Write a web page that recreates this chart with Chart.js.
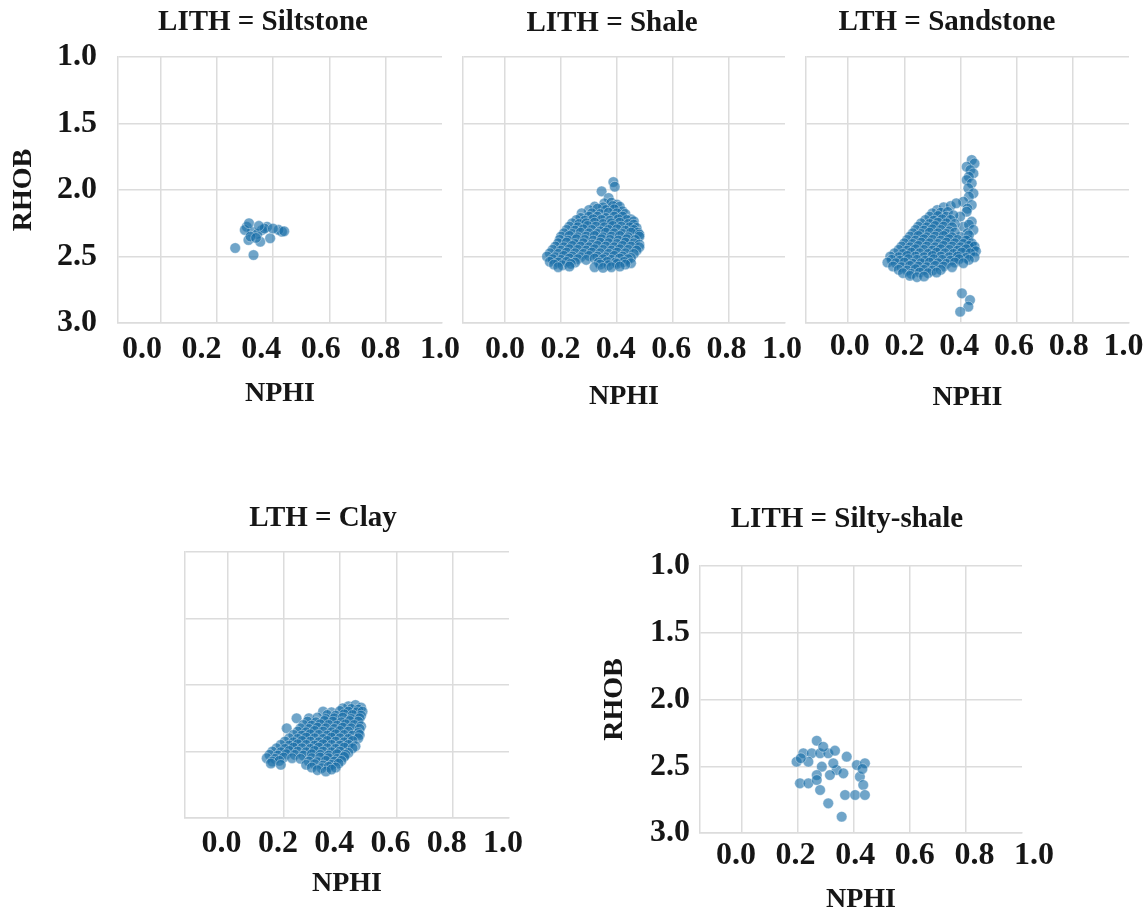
<!DOCTYPE html>
<html>
<head>
<meta charset="utf-8">
<title>NPHI vs RHOB by lithology</title>
<script src="https://cdn.jsdelivr.net/npm/chart.js@4.4.1/dist/chart.umd.min.js"></script>
<style>
  html, body { margin: 0; padding: 0; background: #ffffff; }
  #page { position: relative; width: 1147px; height: 916px; overflow: hidden; background: #ffffff; }
  #page canvas { position: absolute; }
</style>
</head>
<body>
<div id="page"></div>
<script>
// ---- axis ticks ----
const nphiTicks = [0.0, 0.2, 0.4, 0.6, 0.8, 1.0];
const nphiTickLabels = ['0.0', '0.2', '0.4', '0.6', '0.8', '1.0'];
const rhobTicks = [1.0, 1.5, 2.0, 2.5, 3.0];
const rhobTickLabels = ['1.0', '1.5', '2.0', '2.5', '3.0'];

// ---- facet titles ----
const facetTitles = ['LITH = Siltstone', 'LITH = Shale', 'LTH = Sandstone', 'LTH = Clay', 'LITH = Silty-shale'];

// ---- Siltstone ----
const siltstoneNphi = [0.307, 0.325, 0.379, 0.432, 0.266, 0.331, 0.355, 0.313, 0.390, 0.361,
  0.300, 0.345, 0.370, 0.420, 0.440, 0.320, 0.340, 0.400, 0.315, 0.350];
const siltstoneRhob = [2.276, 2.314, 2.276, 2.314, 2.436, 2.489, 2.389, 2.376, 2.363, 2.301,
  2.300, 2.330, 2.290, 2.300, 2.310, 2.350, 2.360, 2.290, 2.250, 2.270];

// ---- Shale ----
const shaleNphi = [
  0.387, 0.392, 0.345, 0.370, 0.355, 0.380, 0.400,
  0.320, 0.350, 0.385, 0.410,
  0.300, 0.330, 0.360, 0.390, 0.420, 0.274,
  0.310, 0.340, 0.370, 0.400, 0.430,
  0.270, 0.300, 0.330, 0.360, 0.390, 0.420, 0.450,
  0.255, 0.285, 0.315, 0.345, 0.375, 0.405, 0.435, 0.460,
  0.240, 0.265, 0.290, 0.320, 0.350, 0.380, 0.410, 0.440, 0.460,
  0.230, 0.260, 0.295, 0.325, 0.355, 0.385, 0.415, 0.445, 0.470,
  0.220, 0.250, 0.280, 0.310, 0.340, 0.370, 0.400, 0.430, 0.460, 0.475,
  0.210, 0.240, 0.270, 0.300, 0.330, 0.360, 0.390, 0.420, 0.450, 0.480,
  0.200, 0.230, 0.260, 0.290, 0.320, 0.350, 0.380, 0.410, 0.440, 0.480,
  0.195, 0.225, 0.255, 0.285, 0.315, 0.345, 0.375, 0.405, 0.435, 0.465,
  0.190, 0.220, 0.250, 0.280, 0.310, 0.340, 0.370, 0.400, 0.430, 0.460, 0.480,
  0.180, 0.210, 0.240, 0.270, 0.300, 0.330, 0.360, 0.390, 0.420, 0.450, 0.480,
  0.170, 0.200, 0.230, 0.260, 0.290, 0.320, 0.350, 0.380, 0.410, 0.440, 0.470,
  0.160, 0.190, 0.220, 0.250, 0.280, 0.310, 0.340, 0.370, 0.400, 0.430, 0.460,
  0.150, 0.180, 0.210, 0.240, 0.270, 0.300, 0.330, 0.360, 0.390, 0.420, 0.450,
  0.170, 0.200, 0.230, 0.260, 0.290, 0.320, 0.350, 0.380, 0.410, 0.440,
  0.160, 0.190, 0.220, 0.250, 0.335, 0.365, 0.395, 0.425, 0.450,
  0.175, 0.205, 0.235, 0.340, 0.370, 0.400, 0.430,
  0.190, 0.230, 0.320, 0.350, 0.380, 0.410];
const shaleRhob = [
  1.940, 1.975, 2.010, 2.060, 2.100, 2.095, 2.110,
  2.125, 2.130, 2.120, 2.125,
  2.150, 2.140, 2.150, 2.145, 2.160, 2.175,
  2.175, 2.180, 2.170, 2.175, 2.180,
  2.210, 2.200, 2.200, 2.210, 2.200, 2.200, 2.220,
  2.225, 2.230, 2.220, 2.225, 2.230, 2.220, 2.225, 2.235,
  2.250, 2.255, 2.250, 2.245, 2.255, 2.250, 2.245, 2.255, 2.260,
  2.275, 2.280, 2.270, 2.275, 2.280, 2.270, 2.275, 2.280, 2.285,
  2.300, 2.305, 2.295, 2.300, 2.310, 2.300, 2.295, 2.305, 2.300, 2.320,
  2.325, 2.330, 2.320, 2.325, 2.330, 2.320, 2.325, 2.330, 2.320, 2.335,
  2.350, 2.345, 2.355, 2.350, 2.345, 2.355, 2.350, 2.345, 2.355, 2.350,
  2.375, 2.380, 2.370, 2.375, 2.380, 2.370, 2.375, 2.380, 2.370, 2.375,
  2.400, 2.395, 2.405, 2.400, 2.410, 2.395, 2.400, 2.405, 2.395, 2.400, 2.410,
  2.425, 2.430, 2.420, 2.425, 2.430, 2.420, 2.425, 2.430, 2.420, 2.425, 2.430,
  2.450, 2.455, 2.445, 2.450, 2.455, 2.445, 2.450, 2.455, 2.445, 2.450, 2.455,
  2.475, 2.480, 2.470, 2.475, 2.480, 2.470, 2.475, 2.480, 2.470, 2.475, 2.480,
  2.500, 2.505, 2.495, 2.500, 2.505, 2.495, 2.500, 2.505, 2.495, 2.500, 2.510,
  2.520, 2.525, 2.515, 2.520, 2.525, 2.515, 2.520, 2.525, 2.515, 2.520,
  2.540, 2.545, 2.540, 2.545, 2.545, 2.540, 2.545, 2.540, 2.550,
  2.560, 2.565, 2.555, 2.560, 2.565, 2.555, 2.560,
  2.580, 2.575, 2.580, 2.585, 2.580, 2.575];

// ---- Sandstone ----
const sandstoneNphi = [
  0.440, 0.450, 0.422, 0.435, 0.446, 0.430, 0.422, 0.440, 0.428, 0.446, 0.430, 0.410, 0.440, 0.425, 0.422,
  0.399, 0.440, 0.410, 0.430, 0.446, 0.425, 0.399, 0.428, 0.440, 0.446, 0.420, 0.387,
  0.317, 0.340, 0.365, 0.385,
  0.300, 0.330, 0.355,
  0.290, 0.320, 0.350, 0.375,
  0.275, 0.305, 0.335, 0.365,
  0.260, 0.290, 0.320, 0.350, 0.380,
  0.250, 0.280, 0.310, 0.340, 0.370,
  0.240, 0.270, 0.300, 0.330, 0.360,
  0.230, 0.260, 0.290, 0.320, 0.350, 0.380,
  0.220, 0.250, 0.280, 0.310, 0.340, 0.370, 0.430,
  0.210, 0.240, 0.270, 0.300, 0.330, 0.360, 0.390, 0.420,
  0.200, 0.230, 0.260, 0.290, 0.320, 0.350, 0.380, 0.410, 0.440,
  0.190, 0.220, 0.250, 0.280, 0.310, 0.340, 0.370, 0.400, 0.430, 0.450,
  0.180, 0.210, 0.240, 0.270, 0.300, 0.330, 0.360, 0.390, 0.420, 0.455,
  0.165, 0.195, 0.225, 0.255, 0.285, 0.315, 0.345, 0.375, 0.405, 0.435,
  0.150, 0.180, 0.210, 0.240, 0.270, 0.300, 0.330, 0.360, 0.390, 0.420, 0.450,
  0.155, 0.185, 0.215, 0.245, 0.275, 0.305, 0.335, 0.365, 0.395, 0.430,
  0.140, 0.170, 0.200, 0.230, 0.260, 0.290, 0.320, 0.350, 0.380, 0.410,
  0.160, 0.190, 0.220, 0.250, 0.280, 0.310, 0.340, 0.370,
  0.180, 0.210, 0.240, 0.270, 0.300, 0.330,
  0.195, 0.225, 0.255, 0.285, 0.315,
  0.220, 0.245, 0.270,
  0.405, 0.434, 0.428, 0.399];
const sandstoneRhob = [
  1.774, 1.800, 1.825, 1.850, 1.875, 1.900, 1.925, 1.950, 1.987, 2.025, 2.050, 2.088, 2.113, 2.140, 2.163,
  2.200, 2.238, 2.276, 2.260, 2.300, 2.325, 2.351, 2.376, 2.420, 2.451, 2.476, 2.514,
  2.150, 2.130, 2.120, 2.100,
  2.175, 2.170, 2.165,
  2.200, 2.195, 2.200, 2.190,
  2.225, 2.230, 2.220, 2.225,
  2.250, 2.255, 2.245, 2.250, 2.255,
  2.275, 2.280, 2.270, 2.275, 2.280,
  2.300, 2.305, 2.295, 2.300, 2.310,
  2.325, 2.330, 2.320, 2.325, 2.330, 2.320,
  2.350, 2.345, 2.355, 2.350, 2.345, 2.355, 2.340,
  2.375, 2.380, 2.370, 2.375, 2.380, 2.370, 2.375, 2.380,
  2.400, 2.405, 2.395, 2.400, 2.405, 2.395, 2.400, 2.405, 2.400,
  2.425, 2.430, 2.420, 2.425, 2.430, 2.420, 2.425, 2.430, 2.420, 2.425,
  2.450, 2.455, 2.445, 2.450, 2.455, 2.445, 2.450, 2.455, 2.445, 2.460,
  2.475, 2.480, 2.470, 2.475, 2.480, 2.470, 2.475, 2.480, 2.470, 2.475,
  2.500, 2.505, 2.495, 2.500, 2.505, 2.495, 2.500, 2.505, 2.500, 2.510, 2.505,
  2.525, 2.530, 2.520, 2.525, 2.530, 2.520, 2.525, 2.530, 2.520, 2.525,
  2.545, 2.550, 2.545, 2.555, 2.550, 2.545, 2.550, 2.555, 2.545, 2.550,
  2.575, 2.580, 2.570, 2.575, 2.580, 2.570, 2.575, 2.580,
  2.600, 2.605, 2.595, 2.600, 2.605, 2.600,
  2.625, 2.630, 2.620, 2.625, 2.620,
  2.645, 2.655, 2.650,
  2.777, 2.827, 2.877, 2.915];

// ---- Clay ----
const clayNphi = [
  0.430, 0.455, 0.475, 0.440,
  0.410, 0.465,
  0.340, 0.370, 0.400, 0.430, 0.460, 0.480,
  0.355, 0.385, 0.415, 0.445, 0.475,
  0.246, 0.290, 0.320, 0.350, 0.380, 0.410, 0.440, 0.470,
  0.285, 0.315, 0.345, 0.375, 0.405, 0.435, 0.465,
  0.270, 0.300, 0.330, 0.360, 0.390, 0.420, 0.450, 0.475,
  0.211, 0.260, 0.290, 0.320, 0.350, 0.380, 0.410, 0.440, 0.470,
  0.250, 0.280, 0.310, 0.340, 0.370, 0.400, 0.430, 0.465,
  0.235, 0.265, 0.295, 0.325, 0.355, 0.385, 0.415, 0.445, 0.470,
  0.220, 0.250, 0.280, 0.310, 0.340, 0.370, 0.400, 0.430, 0.465,
  0.205, 0.235, 0.265, 0.295, 0.325, 0.355, 0.385, 0.415, 0.445,
  0.190, 0.220, 0.250, 0.280, 0.310, 0.340, 0.370, 0.400, 0.430, 0.455,
  0.175, 0.205, 0.235, 0.265, 0.295, 0.325, 0.355, 0.385, 0.415, 0.445,
  0.160, 0.190, 0.220, 0.250, 0.280, 0.310, 0.340, 0.370, 0.400, 0.430,
  0.150, 0.180, 0.210, 0.240, 0.270, 0.300, 0.330, 0.360, 0.390, 0.420,
  0.140, 0.170, 0.200, 0.230, 0.260, 0.300, 0.330, 0.360, 0.390, 0.415,
  0.160, 0.185, 0.290, 0.320, 0.350, 0.380, 0.405,
  0.155, 0.190, 0.280, 0.310, 0.340, 0.370, 0.395,
  0.300, 0.335, 0.360, 0.385,
  0.320, 0.350, 0.370];
const clayRhob = [
  2.160, 2.150, 2.170, 2.180,
  2.175, 2.185,
  2.200, 2.205, 2.195, 2.200, 2.205, 2.200,
  2.225, 2.230, 2.220, 2.225, 2.230,
  2.250, 2.250, 2.245, 2.255, 2.250, 2.245, 2.255, 2.250,
  2.275, 2.280, 2.270, 2.275, 2.280, 2.270, 2.275,
  2.300, 2.305, 2.295, 2.300, 2.305, 2.295, 2.300, 2.310,
  2.326, 2.325, 2.330, 2.320, 2.325, 2.330, 2.320, 2.325, 2.330,
  2.350, 2.355, 2.345, 2.350, 2.355, 2.345, 2.350, 2.360,
  2.375, 2.380, 2.370, 2.375, 2.380, 2.370, 2.375, 2.380, 2.375,
  2.400, 2.405, 2.395, 2.400, 2.405, 2.395, 2.400, 2.405, 2.400,
  2.425, 2.430, 2.420, 2.425, 2.430, 2.420, 2.425, 2.430, 2.420,
  2.450, 2.455, 2.445, 2.450, 2.455, 2.445, 2.450, 2.455, 2.450, 2.460,
  2.475, 2.480, 2.470, 2.475, 2.480, 2.470, 2.475, 2.480, 2.470, 2.475,
  2.500, 2.505, 2.495, 2.500, 2.505, 2.495, 2.500, 2.505, 2.500, 2.510,
  2.525, 2.530, 2.520, 2.525, 2.530, 2.520, 2.525, 2.530, 2.520, 2.525,
  2.550, 2.555, 2.545, 2.550, 2.555, 2.550, 2.545, 2.550, 2.555, 2.540,
  2.575, 2.570, 2.575, 2.580, 2.570, 2.575, 2.570,
  2.590, 2.600, 2.600, 2.595, 2.605, 2.600, 2.590,
  2.620, 2.625, 2.615, 2.620,
  2.640, 2.650, 2.635];

// ---- Silty-shale ----
const siltyShaleNphi = [0.267, 0.219, 0.249, 0.279, 0.308, 0.332, 0.195, 0.237, 0.285, 0.338,
  0.374, 0.410, 0.439, 0.267, 0.314, 0.207, 0.237, 0.267, 0.279, 0.421,
  0.433, 0.368, 0.404, 0.439, 0.308, 0.356, 0.290, 0.362, 0.326, 0.430, 0.210];
const siltyShaleRhob = [2.309, 2.403, 2.403, 2.403, 2.403, 2.383, 2.466, 2.466, 2.503, 2.528,
  2.428, 2.491, 2.478, 2.566, 2.566, 2.628, 2.628, 2.603, 2.678, 2.578,
  2.640, 2.715, 2.715, 2.715, 2.778, 2.878, 2.354, 2.553, 2.478, 2.520, 2.440];

// ---- styling ----
const INK = '#161616';
const GRID = '#dcdcdc';
const DOT = 'rgba(24, 110, 168, 0.62)';
const DOT_EDGE = 'rgba(255, 255, 255, 0.45)';
const SERIF = "'Liberation Serif', 'Times New Roman', serif";
const titleFont = { family: SERIF, size: 29, weight: 'bold', lineHeight: 1.2 };
const tickFont = { family: SERIF, size: 32, weight: 'bold', lineHeight: 1.2 };
const axisFont = { family: SERIF, size: 28, weight: 'bold', lineHeight: 1.2 };

// ---- facet frames (canvas placement and axis box sizes) ----
const facets = [
  { title: facetTitles[0], nphi: siltstoneNphi, rhob: siltstoneRhob,
    left: 0, top: 0, w: 526, h: 411, wy: 118, wr: 84, tpt: 5, tpb: 17.2, hx: 88,
    tickPad: 8, labMin: -0.0805, labMax: 1.0067, labelOffset: 0, showY: true, yPad: 21, yTitlePad: 7 },
  { title: facetTitles[1], nphi: shaleNphi, rhob: shaleRhob,
    left: 414, top: 0, w: 396, h: 414, wy: 49, wr: 25, tpt: 6.6, tpb: 15.6, hx: 91,
    tickPad: 8, labMin: -0.152, labMax: 1.011, labelOffset: 0, showY: false },
  { title: facetTitles[2], nphi: sandstoneNphi, rhob: sandstoneRhob,
    left: 750, top: 0, w: 394, h: 415, wy: 56, wr: 15, tpt: 5.6, tpb: 16.6, hx: 92,
    tickPad: 5, labMin: -0.16, labMax: 1.02, labelOffset: 0, showY: false },
  { title: facetTitles[3], nphi: clayNphi, rhob: clayRhob,
    left: 122, top: 480, w: 402, h: 421, wy: 63, wr: 15, tpt: 21.6, tpb: 15.6, hx: 83,
    tickPad: 7, labMin: -0.13, labMax: 1.021, labelOffset: 0, showY: false },
  { title: facetTitles[4], nphi: siltyShaleNphi, rhob: siltyShaleRhob,
    left: 598, top: 480, w: 498, h: 437, wy: 102, wr: 74, tpt: 22.6, tpb: 28.6, hx: 84,
    tickPad: 4, labMin: -0.0805, labMax: 1.0, labelOffset: 12, showY: true, yPad: 10, yTitlePad: 0 }
];

const page = document.getElementById('page');

function drawFacet(f) {
  const canvas = document.createElement('canvas');
  canvas.width = f.w;
  canvas.height = f.h;
  canvas.style.left = f.left + 'px';
  canvas.style.top = f.top + 'px';
  canvas.style.width = f.w + 'px';
  canvas.style.height = f.h + 'px';
  page.appendChild(canvas);

  const points = f.nphi.map((v, i) => ({ x: v, y: f.rhob[i] }));

  new Chart(canvas, {
    type: 'scatter',
    data: {
      datasets: [{
        data: points,
        xAxisID: 'x',
        yAxisID: 'y',
        backgroundColor: DOT,
        borderColor: DOT_EDGE,
        borderWidth: 0.8,
        pointRadius: 5.3,
        pointHoverRadius: 5.3
      }]
    },
    options: {
      responsive: false,
      animation: false,
      devicePixelRatio: 1,
      events: [],
      layout: { padding: 0 },
      plugins: {
        legend: { display: false },
        tooltip: { enabled: false },
        title: {
          display: true,
          text: f.title,
          color: INK,
          font: titleFont,
          padding: { top: f.tpt, bottom: f.tpb }
        }
      },
      scales: {
        // data axis: carries the grid and the spine
        x: {
          type: 'linear',
          position: 'bottom',
          min: -0.15,
          max: 1.0,
          afterBuildTicks: s => { s.ticks = nphiTicks.map(v => ({ value: v })); },
          ticks: { display: false },
          grid: {
            color: c => (c.tick && c.tick.value >= 0.999) ? 'rgba(0,0,0,0)' : GRID,
            lineWidth: 1.5,
            drawTicks: false
          },
          border: { display: true, color: GRID, width: 1.5 },
          afterFit: s => { s.height = 0; s.paddingLeft = 0; s.paddingRight = 0; }
        },
        // label axis: NPHI tick labels and axis title
        xl: {
          type: 'linear',
          position: 'bottom',
          min: f.labMin,
          max: f.labMax,
          afterBuildTicks: s => { s.ticks = nphiTicks.map(v => ({ value: v })); },
          ticks: {
            color: INK,
            font: tickFont,
            padding: f.tickPad,
            labelOffset: f.labelOffset,
            maxRotation: 0,
            minRotation: 0,
            autoSkip: false,
            callback: (v, i) => nphiTickLabels[i]
          },
          grid: { display: false, drawTicks: false },
          border: { display: false },
          title: { display: true, text: 'NPHI', color: INK, font: axisFont, padding: { top: 0, bottom: 0 } },
          afterFit: s => { s.height = f.hx; s.paddingLeft = 0; s.paddingRight = 0; }
        },
        y: {
          type: 'linear',
          position: 'left',
          reverse: true,
          min: 1.0,
          max: 3.0,
          afterBuildTicks: s => { s.ticks = rhobTicks.map(v => ({ value: v })); },
          ticks: {
            display: f.showY,
            color: INK,
            font: tickFont,
            padding: f.yPad || 0,
            callback: (v, i) => rhobTickLabels[i]
          },
          grid: { color: GRID, lineWidth: 1.5, drawTicks: false },
          border: { display: true, color: GRID, width: 1.5 },
          title: {
            display: f.showY,
            text: 'RHOB',
            color: INK,
            font: axisFont,
            padding: { top: f.yTitlePad || 0, bottom: 0 }
          },
          afterFit: s => { s.width = f.wy; s.paddingTop = 0; s.paddingBottom = 0; }
        },
        // empty right-hand gutter
        yr: {
          type: 'linear',
          position: 'right',
          display: f.wr > 0,
          min: 0,
          max: 1,
          ticks: { display: false },
          grid: { display: false, drawTicks: false },
          border: { display: false },
          afterFit: s => { s.width = f.wr; }
        }
      }
    }
  });
}

facets.forEach(drawFacet);
</script>
</body>
</html>
